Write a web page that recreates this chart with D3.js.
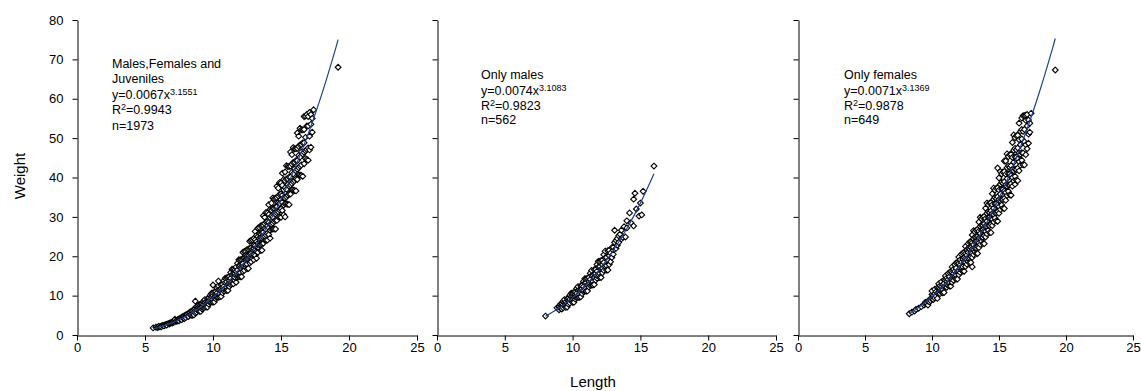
<!DOCTYPE html>
<html><head><meta charset="utf-8">
<script src="https://cdn.jsdelivr.net/npm/d3@7"></script>
<style>body{margin:0;background:#fff} text{font-family:"Liberation Sans",Arial,sans-serif;fill:#000}</style>
</head><body>
<svg id="c" width="1141" height="391"></svg>
<script>
const xTicks=[0,5,10,15,20,25];
const yTicks=[0,10,20,30,40,50,60,70,80];
const titleLines=[["Males,Females and","Juveniles"],["Only males"],["Only females"]];
const coefA=["0.0067","0.0074","0.0071"];
const coefB=["3.1551","3.1083","3.1369"];
const r2Values=["0.9943","0.9823","0.9878"];
const nValues=["1973","562","649"];

// Observed points: each length value with the weights read at that length
// Panel 1: males, females and juveniles
const lengths1=[5.6,5.8,5.9,
 6.0,6.1,6.2,6.3,6.4,6.5,6.6,6.7,6.8,6.9,
 7.0,7.1,7.2,7.3,7.4,7.5,7.6,7.7,7.8,7.9,
 8.0,8.1,8.2,8.3,8.4,8.5,8.6,8.7,8.8,8.9,
 9.0,9.1,9.2,9.3,9.4,9.5,9.6,9.7,9.8,9.9,
 10.0,10.1,10.2,10.3,10.4,10.5,10.6,10.7,10.8,10.9,
 11.0,11.1,11.2,11.3,11.4,11.5,11.6,11.7,11.8,11.9,
 12.0,12.1,12.2,12.3,12.4,12.5,12.6,12.7,12.8,12.9,
 13.0,13.1,13.2,13.3,13.4,13.5,13.6,13.7,13.8,13.9,
 14.0,14.1,14.2,14.3,14.4,14.5,14.6,14.7,14.8,14.9,
 15.0,15.1,15.2,15.3,15.4,15.5,15.6,15.7,15.8,15.9,
 16.0,16.1,16.2,16.3,16.4,16.5,16.6,16.7,16.8,16.9,
 17.0,17.1,17.2,17.3,17.4,19.2];
const weights1=[[1.8],[2.0],[1.9],
 [2.0,2.2],[2.1],[2.3,2.1],[2.4],[2.5,2.3],[2.6],[2.7,2.5],[2.9],[2.8,3.0],[3.1],
 [3.0,3.3],[3.2,3.5],[3.4,4.0],[3.5,3.7],[3.6,3.9],[3.8,4.1,3.6],[4.0,4.3],[4.1,4.5,3.9],[4.3,4.7],[4.5,4.9,4.2],
 [4.7,5.1,4.4],[4.9,5.3],[5.0,5.5,4.7],[5.2,5.8],[5.4,6.0,5.0],[5.3,6.0,5.0],[5.8,6.6,5.1],[6.2,5.6,6.7,8.6],[5.8,6.5,7.2],[7.0,6.2,7.6],
 [6.4,7.1,6.0,7.7],[6.9,7.8,6.0],[7.4,6.6,7.9,7.1],[6.9,7.8,8.6],[8.3,7.4,9.0,7.0],[7.6,8.5,7.1],[8.1,9.2,7.1,8.7],[8.8,7.8,9.4],[8.2,9.1,10.1,8.5],[9.8,8.7,10.6],
 [8.9,10.0,8.3,10.7,12.7],[9.6,10.9,8.4],[10.3,9.2,11.0,9.8],[9.6,10.7,11.9],[11.5,10.2,12.5,9.6,13.7],[10.4,11.6,9.7],[11.2,12.7,9.8,11.8],[12.0,10.7,12.8],[11.1,12.4,13.8,11.6],[13.3,11.8,14.4],
 [12.0,13.5,11.3,14.5],[12.9,14.6,11.3],[13.8,12.3,14.8,13.1],[12.8,14.4,15.9,13.4],[15.3,13.6,16.7],[13.8,15.5,13.0,16.7],[15.5,13.8,16.5,14.7],[15.2,17.3,13.4,16.2],[14.7,16.5,18.2,15.3],[17.6,15.6,19.1,14.8],
 [15.8,17.7,14.8,19.1,17.0],[16.9,19.2,14.8,18.0],[18.1,16.1,19.4,17.2,21.0],[19.5,17.3,21.2,16.4],[17.2,19.3,21.3,17.9,20.2],[18.0,20.1,16.8,21.7,19.4],[19.3,21.8,16.9,20.4],[20.6,18.3,22.0,19.5,23.8],[22.1,19.6,24.0,18.6,20.7],[19.5,21.8,24.2,20.3],
 [20.4,22.8,19.1,24.5,21.9],[22.7,20.2,24.2,21.6,26.3],[22.3,25.3,19.5,23.7,21.2],[25.0,22.1,27.1,21.0,23.3],[22.0,24.6,27.3,22.9,25.8],[23.0,25.7,21.5,27.7,24.7],[24.5,27.8,21.5,26.0,23.2],[26.1,23.3,27.9,24.8,30.3],[24.1,27.0,29.9,25.1,28.3],[28.7,25.4,31.1,24.1,26.8],
 [25.8,28.8,24.1,31.0,27.7],[28.6,25.5,30.6,27.2,33.1],[28.1,31.9,24.6,29.8,26.6],[26.9,30.2,33.5,28.1,31.7],[32.1,28.4,34.8,26.9,30.0],[28.8,32.2,26.9,34.6,30.9],[30.7,34.8,26.9,32.5,29.1],[32.6,29.1,34.9,31.0,37.8],[30.0,33.6,37.3,31.3,35.3],[35.7,31.7,38.7,30.0,33.4],
 [32.0,35.8,29.9,38.6,34.4],[35.5,31.6,38.0,33.7,41.1],[34.8,39.5,30.5,36.9,33.0],[33.3,37.4,41.4,34.8,39.2,30.0],[39.6,35.1,43.0,33.3,37.0],[35.5,39.7,33.2,42.8,38.2],[37.8,42.8,33.1,40.1,35.8],[40.1,35.8,42.9,38.1,46.5],[36.9,41.3,45.8,38.5,43.4],[43.8,38.9,47.6,36.8,40.9],
 [39.2,43.9,36.7,47.3,42.2],[41.7,47.3,36.6,44.3,39.6],[44.3,39.5,47.4,42.1,51.3],[40.7,45.6,50.5,42.5,47.9],[48.3,42.9,52.5,40.6,45.2],[43.2,48.4,40.5,52.1,46.5],[46.0,52.1,40.3,48.8],[48.8,43.5,52.2,46.4,55.5],[44.8,50.2,55.6,46.8],[53.1,47.1,56.0,44.6],
 [47.5,53.1,44.4,55.5],[50.5,56.5,47.0],[53.5,47.7,56.0],[51.5,55.0],[57.2],[68.0]];

// Panel 2: only males
const lengths2=[8.0,8.85,
 9.0,9.1,9.2,9.3,9.4,9.5,9.6,9.7,9.8,9.9,
 10.0,10.1,10.2,10.3,10.4,10.5,10.6,10.7,10.8,10.9,
 11.0,11.1,11.2,11.3,11.4,11.5,11.6,11.7,11.8,11.9,
 12.0,12.1,12.2,12.3,12.4,12.5,12.6,12.7,12.8,12.9,
 13.0,13.1,13.2,13.3,13.4,13.5,13.6,13.7,13.8,13.9,
 14.0,14.2,14.3,14.5,14.6,14.7,14.9,15.0,15.1,15.2,16.0];
const weights2=[[4.8],[6.9],
 [6.4,7.1],[6.9,7.8],[7.4,6.6,7.9],[6.9,7.7,8.6],[8.3,7.4,9.0],[7.5,8.4,7.0],[8.1,9.2,7.1],[8.7,7.8,9.3],[8.1,9.1,10.1],[9.8,8.7,10.6],
 [8.8,9.9,8.3,10.6],[9.5,10.8,8.3],[10.2,9.1,10.9,9.7],[9.5,10.6,11.8],[11.4,10.1,12.3,9.5],[10.3,11.5,9.6],[11.0,12.5,9.7,11.7],[11.8,10.5,12.6],[11.0,12.3,13.6,11.4],[13.2,11.7,14.3],
 [11.9,13.3,11.1,14.3],[12.7,14.4,11.2],[13.6,12.2,14.6,13.0],[12.6,14.1,15.7],[15.1,13.4,16.4,12.7],[13.6,15.2,12.7],[14.6,16.6,12.8,15.5],[15.6,13.9,16.7],[14.4,16.2,17.9,15.1],[17.3,15.3,18.7],
 [15.6,17.4,14.6,18.7],[16.7,18.9,14.6],[17.8,15.8,19.0,16.9],[16.4,18.4,20.4],[19.6,17.4,21.3],[17.6,19.7,16.5],[18.9,21.4,16.5],[20.1,17.9,21.5],[18.6,20.8],[22.2,19.7],
 [21.5,22.3,20.5],[26.6,23.5],[22.0,24.0],[24.5,22.8],[23.5,25.2],[25.6],[26.6,24.4],[24.8],[27.5],[24.9],
 [27.2,29.0],[31.0],[28.5],[27.7,34.5],[36.0],[32.0],[30.2],[33.5],[30.5],[36.5],[42.9]];

// Panel 3: only females
const lengths3=[8.3,8.5,8.7,8.8,9.0,9.2,9.4,9.5,9.6,9.7,9.8,9.9,
 10.0,10.1,10.2,10.3,10.4,10.5,10.6,10.7,10.8,10.9,
 11.0,11.1,11.2,11.3,11.4,11.5,11.6,11.7,11.8,11.9,
 12.0,12.1,12.2,12.3,12.4,12.5,12.6,12.7,12.8,12.9,
 13.0,13.1,13.2,13.3,13.4,13.5,13.6,13.7,13.8,13.9,
 14.0,14.1,14.2,14.3,14.4,14.5,14.6,14.7,14.8,14.9,
 15.0,15.1,15.2,15.3,15.4,15.5,15.6,15.7,15.8,15.9,
 16.0,16.1,16.2,16.3,16.4,16.5,16.6,16.7,16.8,16.9,
 17.0,17.1,17.2,17.3,17.4,19.2];
const weights3=[[5.4],[5.8],[6.1],[6.5],[6.8],[7.2],[7.6],[7.9,8.3],[8.2],[7.6,8.6],[8.9,8.4],[9.2,8.7],
 [10.3,9.1,11.2],[10.1,9.0],[9.4,10.5,11.6],[9.9,11.0],[10.6,12.0,9.3],[11.9,10.6,13.0],[11.7,10.5,12.5],[10.9,12.2,13.5,11.4],[11.4,12.8,10.7],[12.3,14.0,10.8,13.1],
 [13.9,12.3,15.0],[13.6,12.1,14.5,12.9],[12.6,14.1,15.6],[13.2,14.8,12.4,15.9],[14.2,16.1,12.4],[15.9,14.1,17.3,13.4],[15.6,13.9,16.7],[14.5,16.2,17.9,15.1],[15.2,17.0,14.2,18.3],[16.2,18.4,14.2],
 [18.2,16.2,19.8,15.3],[17.8,15.9,19.1,16.9],[16.5,18.5,20.5,17.2],[17.3,19.3,16.2,20.8],[18.5,21.0,16.2,19.6],[20.7,18.4,22.5,17.4,19.4],[20.3,18.0,21.7,19.2],[18.7,21.0,23.2,19.5,22.0],[19.6,21.9,18.3,23.6],[20.9,23.7,18.4,22.2,19.9],
 [23.5,20.8,25.4,19.7,21.9,17.3],[22.9,20.4,24.5,21.8,26.5],[21.1,23.7,26.2,22.1,24.8],[22.1,24.7,20.7,26.6,23.8],[23.6,26.8,20.7,25.1,22.4],[26.4,23.4,28.7,22.2,24.7],[25.8,23.0,27.6,24.5,29.9],[23.8,26.6,29.5,24.8,27.9],[24.8,27.8,23.2,29.9,26.7],[26.5,30.1,23.2,28.2,25.2],
 [29.6,26.3,32.2,24.9,27.7],[28.9,25.7,30.9,27.5,33.5],[26.6,29.8,33.1,27.8,31.3],[27.8,31.1,26.0,33.5,29.9],[29.6,33.6,26.0,31.5,28.1],[33.1,29.4,35.9,27.8,30.9],[32.2,28.7,34.5,30.6,37.3],[29.7,33.3,36.8,31.0,34.9],[31.0,34.6,29.0,37.3,33.3],[33.0,37.4,28.9,35.1,31.3,42.4],
 [36.8,32.6,39.9,30.9,34.4],[35.8,31.9,38.3,34.1,41.5],[33.0,37.0,40.9,34.4,38.8],[34.4,38.5,32.2,41.4,37.0],[36.6,41.5,32.1,38.9,34.7,44.2],[40.8,36.2,44.2,34.2,38.1],[39.7,35.4,42.5,37.8,46.0],[36.5,40.9,45.3,38.1,42.9],[38.1,42.6,35.6,45.8,40.9],[40.5,45.9,35.5,43.0,38.4],
 [45.1,40.0,48.9,37.8,42.1],[43.9,39.1,46.9,41.7,50.8],[40.3,45.2,50.1,42.1,47.4,38.3],[42.0,47.0,39.3,50.6,45.2],[44.7,50.7,39.2,47.5,42.4],[49.6,44.0,53.8,41.7,46.3],[48.3,43.1,51.7,45.9],[44.4,49.8,55.1,46.3,52.2],[46.2,51.7,43.2,55.7],[49.1,55.7,43.2,52.2],
 [54.5,48.3,55.8,45.8],[53.1,47.3,56.0],[48.7,54.6,51.0],[53.8,51.5],[56.3],[67.3]];

// Fitted power curves (values of the printed equations)
const fitLengths1=[5.6,6,7,8,9,10,11,12,13,14,15,16,17,18,19,19.2];
const fitWeights1=[1.54,1.91,3.11,4.74,6.87,9.58,12.94,17.02,21.91,27.69,34.42,42.19,51.07,61.18,72.56,75.0];
const fitLengths2=[8,9,10,11,12,13,14,15,16];
const fitWeights2=[4.75,6.84,9.50,12.77,16.73,21.46,27.03,33.49,40.93];
const fitLengths3=[8.3,9,10,11,12,13,14,15,16,17,18,19,19.2];
const fitWeights3=[5.42,6.99,9.73,13.12,17.24,22.16,27.97,34.72,42.51,51.41,61.51,72.87,75.3];

const panels=[
  {L:lengths1,W:weights1,fL:fitLengths1,fW:fitWeights1,x0:77,x1:417,tx:112,ty:[68,83,99,114,130],yLabels:true},
  {L:lengths2,W:weights2,fL:fitLengths2,fW:fitWeights2,x0:437,x1:776,tx:481,ty:[79,95,110,124],yLabels:false},
  {L:lengths3,W:weights3,fL:fitLengths3,fW:fitWeights3,x0:798,x1:1133,tx:844,ty:[79,95,110,124],yLabels:false}
];

const svg=d3.select("#c");
const y=d3.scaleLinear().domain([0,80]).range([335,20]);
const diamond="M0,-2.9L2.9,0L0,2.9L-2.9,0Z";

panels.forEach((p,i)=>{
  const x=d3.scaleLinear().domain([0,25]).range([p.x0,p.x1]);
  const g=svg.append("g");
  const xa=g.append("g").attr("transform","translate(0,335.5)")
    .call(d3.axisBottom(x).tickValues(xTicks).tickSize(5).tickSizeOuter(0).tickPadding(2));
  const ya=g.append("g").attr("transform",`translate(${p.x0+0.5},0)`)
    .call(d3.axisLeft(y).tickValues(yTicks).tickSize(5).tickSizeOuter(0).tickPadding(9)
      .tickFormat(p.yLabels?d3.format("d"):()=>""));
  [xa,ya].forEach(a=>{
    a.select(".domain").attr("stroke","#000");
    a.selectAll(".tick line").attr("stroke","#000");
    a.selectAll("text").attr("font-size",13).attr("font-family","Liberation Sans, Arial, sans-serif").attr("fill","#000");
  });
  const pts=[];
  p.L.forEach((l,k)=>(p.W[k]||[]).forEach(w=>pts.push([l,w])));
  g.append("g").selectAll("path").data(pts).join("path")
    .attr("d",diamond)
    .attr("transform",d=>`translate(${x(d[0])},${y(d[1])})`)
    .attr("fill","#fff").attr("stroke","#000").attr("stroke-width",1.1);
  const fit=p.fL.map((l,k)=>[l,p.fW[k]]);
  g.append("path").datum(fit)
    .attr("d",d3.line().x(d=>x(d[0])).y(d=>y(d[1])).curve(d3.curveCatmullRom))
    .attr("fill","none").attr("stroke","#22408f").attr("stroke-width",1.2);
  const t=g.append("g").attr("font-size",12.5);
  let li=0;
  titleLines[i].forEach(s=>{
    t.append("text").attr("x",p.tx).attr("y",p.ty[li++]).text(s);
  });
  const eq=t.append("text").attr("x",p.tx).attr("y",p.ty[li++]);
  eq.append("tspan").text("y="+coefA[i]+"x");
  eq.append("tspan").attr("font-size",9).attr("dy",-4.5).text(coefB[i]);
  const r=t.append("text").attr("x",p.tx).attr("y",p.ty[li++]);
  r.append("tspan").text("R");
  r.append("tspan").attr("font-size",9).attr("dy",-4.5).text("2");
  r.append("tspan").attr("dy",4.5).text("="+r2Values[i]);
  t.append("text").attr("x",p.tx).attr("y",p.ty[li++]).text("n="+nValues[i]);
});

svg.append("text").attr("transform","translate(25,176) rotate(-90)")
  .attr("text-anchor","middle").attr("font-size",15).text("Weight");
svg.append("text").attr("x",593).attr("y",387)
  .attr("text-anchor","middle").attr("font-size",15).text("Length");
</script>
</body></html>
